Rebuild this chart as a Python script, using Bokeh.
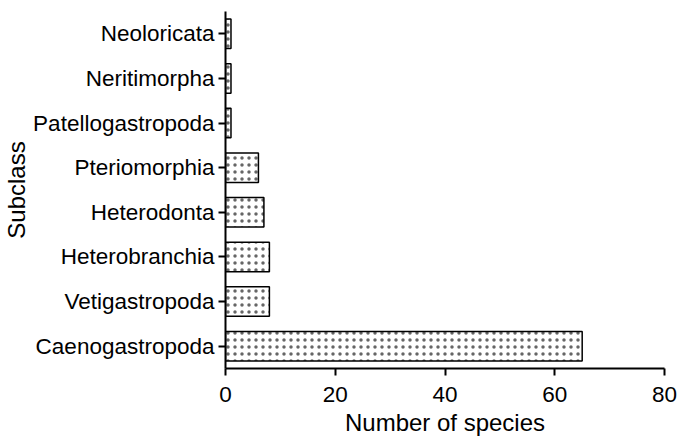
from bokeh.plotting import figure
from bokeh.models import ColumnDataSource
from bokeh.embed import file_html
from bokeh.resources import INLINE

subclasses = ["Caenogastropoda", "Vetigastropoda", "Heterobranchia", "Heterodonta",
              "Pteriomorphia", "Patellogastropoda", "Neritimorpha", "Neoloricata"]
species = [65, 8, 8, 7, 6, 1, 1, 1]
x_ticks = [0, 20, 40, 60, 80]

src = ColumnDataSource(dict(sub=subclasses, n=species))

p = figure(width=678, height=438, y_range=subclasses, x_range=(0, 80),
           output_backend="svg", toolbar_location=None,
           min_border_left=224, min_border_right=14, min_border_top=11, min_border_bottom=67)
p.y_range.range_padding = 0

p.hbar(y="sub", right="n", left=0, height=0.66, source=src,
       fill_color="white", line_color="black", line_width=1.5,
       hatch_pattern=".", hatch_color="#666666", hatch_scale=7, hatch_weight=0.75)

p.outline_line_color = None
p.xgrid.grid_line_color = None
p.ygrid.grid_line_color = None

font = "Liberation Sans"
p.xaxis.ticker = x_ticks
p.xaxis.axis_label = "Number of species"
p.yaxis.axis_label = "Subclass"
for ax in (p.xaxis[0], p.yaxis[0]):
    ax.axis_line_width = 2
    ax.axis_line_color = "black"
    ax.major_tick_line_width = 2
    ax.major_tick_line_color = "black"
    ax.major_tick_out = 7
    ax.major_tick_in = 0
    ax.minor_tick_line_color = None
    ax.major_label_text_font = font
    ax.major_label_text_font_size = "22.5px"
    ax.major_label_text_color = "black"
    ax.axis_label_text_font = font
    ax.axis_label_text_font_size = "24px"
    ax.axis_label_text_font_style = "normal"
    ax.axis_label_text_color = "black"
p.xaxis.major_label_standoff = 11
p.yaxis.major_label_standoff = 4
p.xaxis.axis_label_standoff = 4
p.yaxis.axis_label_standoff = 0

open("out.html", "w").write(file_html(p, INLINE))
